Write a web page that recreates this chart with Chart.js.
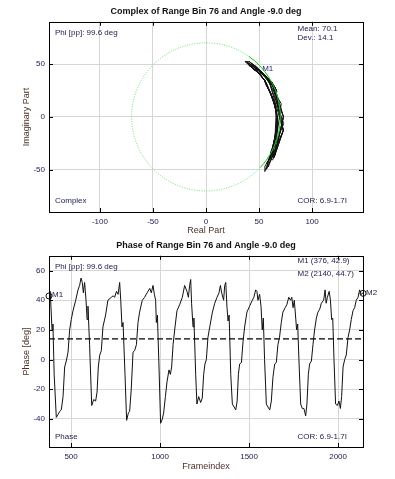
<!DOCTYPE html>
<html>
<head>
<meta charset="utf-8">
<script src="https://cdn.jsdelivr.net/npm/chart.js@4/dist/chart.umd.min.js"></script>
<style>
  html, body { margin: 0; padding: 0; background: #fff; }
  .box { position: relative; width: 395px; }
</style>
</head>
<body>
<div class="box" style="height:240px"><canvas id="complexChart"></canvas></div>
<div class="box" style="height:239px"><canvas id="phaseChart"></canvas></div>
<script>
// ===== DATA =====
var frames = [
  376, 383, 393, 398, 405, 417, 427, 436, 445, 455, 464, 473, 483, 492, 501, 511, 526, 539, 548, 556, 563, 569, 576, 584, 590, 595, 604,
  616, 627, 638, 646, 653, 661, 670, 679, 694, 707, 726, 736, 745, 755, 764, 773, 779, 786, 792, 803,
  812, 822, 829, 838, 848, 857, 867, 876, 885, 900, 913, 927, 942, 951, 960, 968, 975, 979, 985, 994,
  1003, 1013, 1020, 1030, 1039, 1050, 1058, 1065, 1073, 1084, 1095, 1110, 1125, 1138, 1151, 1159, 1166, 1172, 1177, 1185, 1190, 1200,
  1207, 1217, 1228, 1237, 1245, 1252, 1260, 1269, 1279, 1294, 1307, 1320, 1331, 1339, 1346, 1357, 1363, 1369, 1376, 1382, 1388, 1397,
  1406, 1416, 1425, 1433, 1440, 1447, 1457, 1466, 1475, 1488, 1503, 1518, 1527, 1537, 1544, 1550, 1559, 1567, 1574, 1580, 1587,
  1597, 1606, 1616, 1625, 1634, 1644, 1653, 1662, 1671, 1681, 1690, 1703, 1712, 1723, 1733, 1740, 1747, 1754, 1762, 1767, 1773, 1780,
  1790, 1799, 1808, 1818, 1825, 1833, 1840, 1850, 1859, 1868, 1878, 1887, 1897, 1906, 1919, 1927, 1933, 1940, 1950, 1957, 1964, 1970, 1977,
  1986, 1996, 2005, 2013, 2020, 2028, 2037, 2046, 2056, 2065, 2074, 2084, 2093, 2102, 2112, 2121, 2130, 2140
];
var phase = [
  43, 46, 20, 24, -10, -39, -37, -35, -34, -25, -5, -1, 5, 20, 27, 33, 40, 47, 50, 55, 52, 45, 52, 40, 27, 36, 10,
  -31, -27, -28, -22, -5, 3, 6, 22, 30, 40, 42, 43, 42, 46, 44, 52, 40, 22, 25, -10,
  -41, -36, -35, -20, 5, 6, 10, 25, 32, 40, 42, 45, 48, 45, 50, 44, 40, 25, 30, -5,
  -43, -40, -36, -25, -15, -7, -10, -5, 10, 22, 33, 37, 42, 50, 46, 42, 50, 54, 38, 22, 28, -10,
  -30, -25, -29, -26, -10, -3, 0, 15, 22, 32, 38, 42, 45, 50, 45, 40, 50, 52, 35, 26, 30, -10,
  -30, -32, -34, -28, -10, -3, -2, 12, 22, 32, 36, 40, 42, 47, 46, 40, 44, 36, 20, 28, 0,
  -30, -32, -34, -28, -12, -3, -2, 10, 15, 25, 32, 35, 37, 42, 40, 42, 35, 40, 28, 20, 24, 0,
  -30, -33, -33, -38, -30, -10, -3, -1, 10, 20, 28, 32, 34, 38, 40, 47, 38, 42, 46, 40, 27, 28, 0,
  -30, -31, -28, -33, -25, -5, 0, 3, 15, 20, 27, 33, 35, 40, 42, 47, 44, 45
];
var magnitude = [
  67.2, 66.9, 71, 70.6, 74, 75.4, 72.2, 72, 71.9, 69.5, 67.5, 67.1, 66.5, 65, 64.3, 65.2, 64.5, 63.8, 63.5, 64, 66.3, 67, 66.3, 67.5, 70.3, 67.9, 72,
  74.6, 69.7, 69.8, 69.2, 67.5, 66.7, 66.4, 64.8, 65.5, 64.5, 64.3, 64.2, 64.3, 63.9, 64.1, 64.8, 67.5, 70.8, 70.5, 74,
  75.6, 72.1, 72, 69, 66.5, 66.4, 66, 64.5, 65.3, 64.5, 64.3, 64, 63.7, 64, 65, 67.1, 67.5, 70.5, 68.5, 73.5,
  75.8, 72.5, 72.1, 69.5, 68.5, 67.7, 68, 67.5, 66, 64.8, 65.2, 64.8, 64.3, 63.5, 63.9, 64.3, 63.5, 64.6, 67.7, 70.8, 70.2, 74,
  74.5, 69.5, 69.9, 69.6, 68, 67.3, 67, 65.5, 64.8, 65.3, 64.7, 64.3, 64, 63.5, 64, 64.5, 63.5, 64.8, 68, 70.4, 68.5, 74,
  74.5, 71.7, 71.9, 69.8, 68, 67.3, 67.2, 65.8, 64.8, 65.3, 64.9, 64.5, 64.3, 63.8, 63.9, 64.5, 65.1, 67.9, 71, 70.2, 73,
  74.5, 71.7, 71.9, 69.8, 68.2, 67.3, 67.2, 66, 65.5, 64.5, 65.3, 65, 64.8, 64.3, 64.5, 64.3, 65, 66, 70.2, 71, 70.6, 73,
  74.5, 74.8, 71.8, 72.3, 71.5, 68, 67.3, 67.1, 66, 65, 64.2, 65.3, 65.1, 64.7, 64.5, 63.8, 64.7, 64.3, 65.4, 67.5, 70.3, 70.2, 73,
  74.5, 74.6, 69.8, 71.8, 69.5, 67.5, 67, 66.7, 65.5, 65, 64.3, 65.2, 65, 64.5, 64.3, 63.8, 64.1, 64
];
var meanPhase = 14;        // dashed line in the phase plot
var meanRadius = 70.1;     // "Mean" circle in the complex plot
var markers = [{ label: 'M1', frame: 376, value: 42.9 }, { label: 'M2', frame: 2140, value: 44.7 }];
var complexTicksX = [-100, -50, 0, 50, 100];
var complexTicksY = [-50, 0, 50];
var phaseTicksX = [500, 1000, 1500, 2000];
var phaseTicksY = [-40, -20, 0, 20, 40, 60];

// ===== SHARED STYLE =====
var FONT = "'Liberation Sans', Arial, sans-serif";
var tickFont = { family: FONT, size: 8 };
var txtColor = '#1c1c4a';
var axColor = '#4a3428';
var gridCol = '#d6d6d6';
var plainNum = function (v) { return String(v); };

function useTicks(list) {
  return function (s) { s.ticks = list.map(function (v) { return { value: v }; }); };
}

function frameAndTicks(len) {
  return {
    id: 'frameTicks',
    afterDraw: function (chart) {
      var ctx = chart.ctx, a = chart.chartArea, sx = chart.scales.x, sy = chart.scales.y;
      ctx.save();
      ctx.strokeStyle = '#000';
      ctx.lineWidth = 1;
      ctx.strokeRect(Math.round(a.left) + 0.5, Math.round(a.top) + 0.5, Math.round(a.right - a.left), Math.round(a.bottom - a.top));
      ctx.beginPath();
      sx.ticks.forEach(function (t) {
        var px = Math.round(sx.getPixelForValue(t.value)) + 0.5;
        ctx.moveTo(px, a.bottom); ctx.lineTo(px, a.bottom - len);
        ctx.moveTo(px, a.top); ctx.lineTo(px, a.top + len);
      });
      sy.ticks.forEach(function (t) {
        var py = Math.round(sy.getPixelForValue(t.value)) + 0.5;
        ctx.moveTo(a.left, py); ctx.lineTo(a.left + len, py);
        ctx.moveTo(a.right, py); ctx.lineTo(a.right - len, py);
      });
      ctx.stroke();
      ctx.restore();
    }
  };
}

// ===== COMPLEX PLOT =====
var complexPts = phase.map(function (p, i) {
  var a = p * Math.PI / 180;
  return { x: magnitude[i] * Math.cos(a), y: magnitude[i] * Math.sin(a) };
});

function circleGeom(chart) {
  var sx = chart.scales.x, sy = chart.scales.y;
  var cx = sx.getPixelForValue(0), cy = sy.getPixelForValue(0);
  return { cx: cx, cy: cy, rx: sx.getPixelForValue(meanRadius) - cx, ry: cy - sy.getPixelForValue(meanRadius) };
}

var complexDecor = {
  id: 'complexDecor',
  beforeDatasetsDraw: function (chart) {
    var ctx = chart.ctx, sx = chart.scales.x, sy = chart.scales.y, g = circleGeom(chart);
    ctx.save();
    ctx.strokeStyle = '#5fe35f';
    ctx.lineWidth = 1;
    ctx.setLineDash([1, 1.5]);
    ctx.beginPath();
    ctx.ellipse(g.cx, g.cy, g.rx, g.ry, 0, 0, Math.PI * 2);
    ctx.stroke();
    ctx.setLineDash([]);
    // M1 label sits under the data
    ctx.font = '8px ' + FONT;
    ctx.fillStyle = '#23237a';
    ctx.textBaseline = 'middle';
    var m = complexPts[0];
    ctx.fillText(markers[0].label, sx.getPixelForValue(m.x) + 4, sy.getPixelForValue(m.y));
    ctx.restore();
  },
  afterDatasetsDraw: function (chart) {
    var ctx = chart.ctx, a = chart.chartArea, g = circleGeom(chart);
    var pMin = Math.min.apply(null, phase) * Math.PI / 180, pMax = Math.max.apply(null, phase) * Math.PI / 180;
    ctx.save();
    ctx.strokeStyle = '#1fc41f';
    ctx.lineWidth = 1;
    ctx.beginPath();
    ctx.ellipse(g.cx, g.cy, g.rx, g.ry, 0, -pMax, -pMin);
    ctx.stroke();
    ctx.font = '8px ' + FONT;
    ctx.fillStyle = txtColor;
    ctx.textBaseline = 'middle';
    ctx.textAlign = 'left';
    ctx.fillText('Phi [pp]: 99.6 deg', a.left + 6, a.top + 10.7);
    ctx.fillText('Mean: 70.1', a.left + 248.5, a.top + 6.7);
    ctx.fillText('Dev.: 14.1', a.left + 248.5, a.top + 15.7);
    ctx.fillText('Complex', a.left + 6, a.bottom - 11.3);
    ctx.fillText('COR: 6.9-1.7I', a.left + 248.5, a.bottom - 11.3);
    ctx.restore();
  }
};

new Chart(document.getElementById('complexChart').getContext('2d'), {
  type: 'scatter',
  data: { datasets: [
    { label: 'Complex', data: complexPts, showLine: true, borderColor: '#111', borderWidth: 1, pointRadius: 0, tension: 0 }
  ]},
  options: {
    responsive: true, maintainAspectRatio: false, animation: false,
    layout: { padding: { left: 0, right: 32, top: 0, bottom: 0 } },
    plugins: {
      legend: { display: false }, tooltip: { enabled: false },
      title: { display: true, fullSize: false, text: 'Complex of Range Bin 76 and Angle -9.0 deg', color: '#111',
        font: { family: FONT, size: 9, weight: 'bold' }, padding: { top: 6, bottom: 5 } }
    },
    scales: {
      x: { type: 'linear', min: -148, max: 148,
        afterFit: function (s) { s.height = 28; },
        afterBuildTicks: useTicks(complexTicksX),
        grid: { color: gridCol, drawTicks: false }, border: { display: false },
        ticks: { font: tickFont, color: txtColor, padding: 5, maxRotation: 0, callback: plainNum },
        title: { display: true, text: 'Real Part', color: axColor, font: { family: FONT, size: 9 }, padding: { top: 0, bottom: 4 } } },
      y: { type: 'linear', min: -90, max: 90,
        afterFit: function (s) { s.width = 49; },
        afterBuildTicks: useTicks(complexTicksY),
        grid: { color: gridCol, drawTicks: false }, border: { display: false },
        ticks: { font: tickFont, color: txtColor, padding: 4, callback: plainNum },
        title: { display: true, text: 'Imaginary Part', color: axColor, font: { family: FONT, size: 9 }, padding: { top: 21.6, bottom: 0 } } }
    }
  },
  plugins: [complexDecor, frameAndTicks(4)]
});

// ===== PHASE PLOT =====
var phasePts = frames.map(function (f, i) { return { x: f, y: phase[i] }; });
var meanPts = [{ x: frames[0], y: meanPhase }, { x: frames[frames.length - 1], y: meanPhase }];
var markerPts = markers.map(function (m) { return { x: m.frame, y: m.value }; });

var phaseDecor = {
  id: 'phaseDecor',
  afterDatasetsDraw: function (chart) {
    var ctx = chart.ctx, a = chart.chartArea, sx = chart.scales.x, sy = chart.scales.y;
    ctx.save();
    ctx.font = '8px ' + FONT;
    ctx.fillStyle = txtColor;
    ctx.textBaseline = 'middle';
    ctx.textAlign = 'left';
    ctx.fillText('Phi [pp]: 99.6 deg', a.left + 6, a.top + 11);
    ctx.fillText('M1 (376, 42.9)', a.left + 248.5, a.top + 5.3);
    ctx.fillText('M2 (2140, 44.7)', a.left + 248.5, a.top + 17.7);
    ctx.fillText('Phase', a.left + 6, a.bottom - 10.3);
    ctx.fillText('COR: 6.9-1.7I', a.left + 248.5, a.bottom - 10.3);
    markers.forEach(function (m) {
      ctx.fillText(m.label, sx.getPixelForValue(m.frame) + 3, sy.getPixelForValue(m.value) - 1);
    });
    ctx.restore();
  }
};

new Chart(document.getElementById('phaseChart').getContext('2d'), {
  type: 'scatter',
  data: { datasets: [
    { label: 'Phase', data: phasePts, showLine: true, borderColor: '#111', borderWidth: 1, pointRadius: 0, tension: 0 },
    { label: 'Mean', data: meanPts, showLine: true, borderColor: '#000', borderWidth: 1.3, borderDash: [6, 3], pointRadius: 0 },
    { label: 'Markers', data: markerPts, showLine: false, pointRadius: 3, pointBackgroundColor: 'rgba(0,0,0,0)',
      pointBorderColor: '#111', pointBorderWidth: 1, clip: false }
  ]},
  options: {
    responsive: true, maintainAspectRatio: false, animation: false,
    layout: { padding: { left: 0, right: 32, top: 0, bottom: 0 } },
    plugins: {
      legend: { display: false }, tooltip: { enabled: false },
      title: { display: true, fullSize: false, text: 'Phase of Range Bin 76 and Angle -9.0 deg', color: '#111',
        font: { family: FONT, size: 9, weight: 'bold' }, padding: { top: 0.6, bottom: 4.4 } }
    },
    scales: {
      x: { type: 'linear', min: 376, max: 2140,
        afterFit: function (s) { s.height = 32; },
        afterBuildTicks: useTicks(phaseTicksX),
        grid: { color: gridCol, drawTicks: false }, border: { display: false },
        ticks: { font: tickFont, color: txtColor, padding: 5, maxRotation: 0, callback: plainNum },
        title: { display: true, text: 'Frameindex', color: axColor, font: { family: FONT, size: 9 }, padding: { top: 0, bottom: 6.9 } } },
      y: { type: 'linear', min: -59, max: 70,
        afterFit: function (s) { s.width = 49; },
        afterBuildTicks: useTicks(phaseTicksY),
        grid: { color: gridCol, drawTicks: false }, border: { display: false },
        ticks: { font: tickFont, color: txtColor, padding: 4, callback: plainNum },
        title: { display: true, text: 'Phase [deg]', color: axColor, font: { family: FONT, size: 9 }, padding: { top: 21.6, bottom: 0 } } }
    }
  },
  plugins: [phaseDecor, frameAndTicks(4)]
});
</script>
</body>
</html>
